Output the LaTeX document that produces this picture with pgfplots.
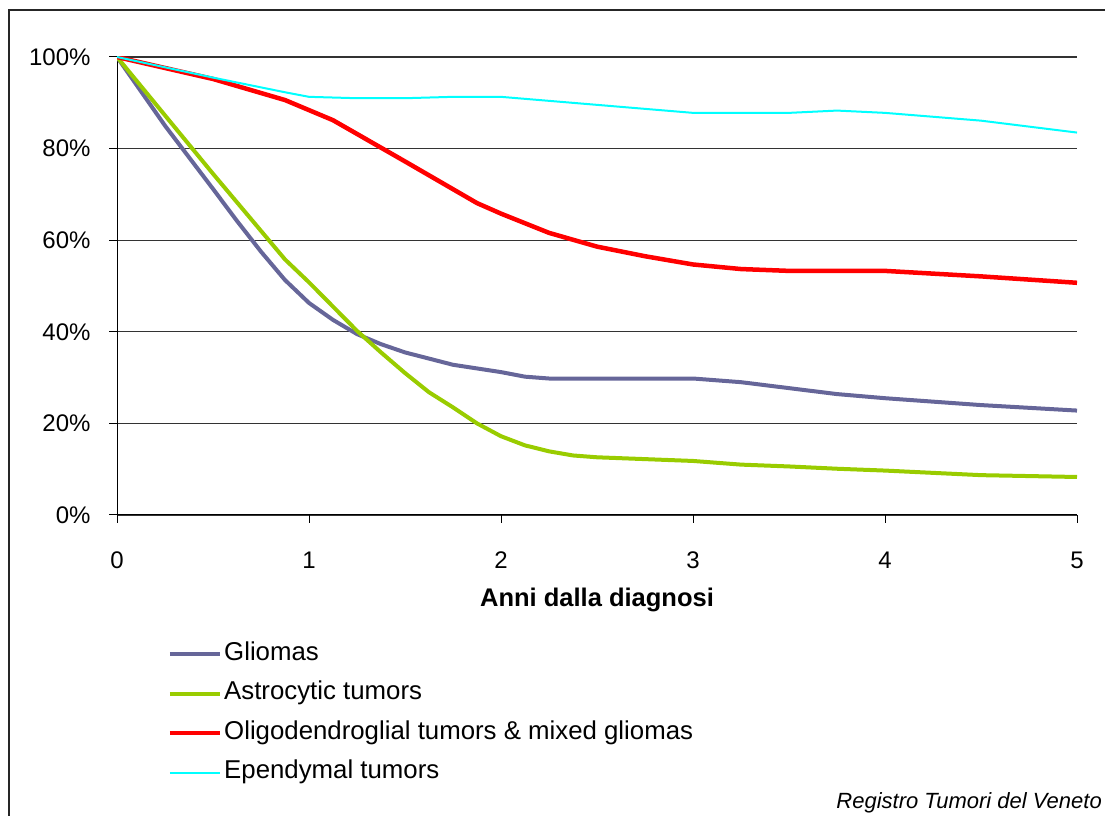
\documentclass[border=0pt]{standalone}
\usepackage{fontspec}
\setmainfont{Liberation Sans}
\usepackage{pgfplots}
\pgfplotsset{compat=1.18}

\definecolor{glioma}{HTML}{666699}
\definecolor{astro}{HTML}{99CC00}
\definecolor{oligo}{HTML}{FF0000}
\definecolor{epend}{HTML}{00FFFF}

\begin{document}
\begin{tikzpicture}
\useasboundingbox (0,0) rectangle (1105bp,816bp);
\clip (0,0) rectangle (1105bp,816bp);
\draw[line width=1.5bp, black!85] (9bp,806bp) rectangle (1200bp,-50bp);

\begin{axis}[
    at={(117bp,301bp)}, anchor=south west,
    width=960bp, height=458bp, scale only axis,
    xmin=0, xmax=5, ymin=0, ymax=100,
    axis x line*=bottom, axis y line*=left,
    axis line style={black, line width=1bp},
    xtick={0,1,2,3,4,5},
    xticklabels={0,1,2,3,4,5},
    ytick={0,20,40,60,80,100},
    yticklabels={0\%,20\%,40\%,60\%,80\%,100\%},
    tick align=outside, major tick length=8bp,
    tick style={black, line width=1bp},
    ymajorgrids=true,
    grid style={black!80, line width=1.3bp},
    ticklabel style={font=\fontsize{24bp}{28bp}\selectfont},
    xticklabel style={anchor=base, yshift=-45bp},
    yticklabel style={anchor=east, xshift=-15bp},
    xlabel={Anni dalla diagnosi},
    xlabel style={font=\fontsize{25.5bp}{30bp}\selectfont\bfseries,
        at={(axis description cs:0.5,0)}, anchor=base, yshift=-91.7bp},
    legend cell align=left,
    legend style={draw=none, fill=none,
        at={(axis description cs:0.0495,-0.273)}, anchor=north west,
        font=\fontsize{25.8bp}{30bp}\selectfont,
        row sep=15.5bp,
        nodes={inner sep=0pt, text height=18bp, text depth=6bp},
        /tikz/every odd column/.append style={column sep=2bp}},
    legend image code/.code={\draw[#1] (0bp,0bp) -- (50bp,0bp);},
    every axis plot/.append style={line join=round},
]

\addplot[glioma, line width=4bp] coordinates {
(0,100)(0.25,85)(0.5,71.2)(0.625,64.2)(0.75,57.5)(0.875,51.3)(1.0,46.3)
(1.125,42.6)(1.25,39.5)(1.375,37.3)(1.5,35.5)(1.75,32.8)(2.0,31.2)
(2.125,30.2)(2.25,29.8)(3.0,29.8)(3.25,29.0)(3.5,27.7)(3.75,26.4)
(4.0,25.5)(4.5,24.0)(5.0,22.8)
};
\addlegendentry{Gliomas}

\addplot[astro, line width=4bp] coordinates {
(0,100)(0.5,74.5)(0.875,55.8)(1.0,50.8)(1.125,45.5)(1.25,40.2)(1.375,35.5)
(1.5,31.0)(1.625,26.8)(1.75,23.5)(1.875,20.0)(2.0,17.2)(2.125,15.2)
(2.25,13.9)(2.375,13.0)(2.5,12.6)(3.0,11.8)(3.25,11.0)(3.5,10.6)
(3.75,10.1)(4.0,9.7)(4.5,8.7)(5.0,8.3)
};
\addlegendentry{Astrocytic tumors}

\addplot[oligo, line width=4.5bp] coordinates {
(0,100)(0.5,95.2)(0.875,90.6)(1.125,86.2)(1.5,77.2)(1.875,68.1)(2.0,65.8)
(2.25,61.6)(2.5,58.6)(2.75,56.5)(3.0,54.7)(3.25,53.7)(3.5,53.3)(4.0,53.3)
(4.5,52.1)(5.0,50.7)
};
\addlegendentry{Oligodendroglial tumors \& mixed gliomas}

\addplot[epend, line width=2bp] coordinates {
(0,100)(0.5,95.5)(0.875,92.3)(1.0,91.3)(1.25,91.0)(1.5,91.0)(1.75,91.3)
(2.0,91.3)(3.0,87.8)(3.5,87.8)(3.75,88.3)(4.0,87.8)(4.5,86.1)(5.0,83.5)
};
\addlegendentry{Ependymal tumors}
\end{axis}

\node[anchor=base east, inner sep=0pt, font=\fontsize{22bp}{26bp}\selectfont\itshape]
    at (1102bp,8bp) {Registro Tumori del Veneto};
\end{tikzpicture}
\end{document}
